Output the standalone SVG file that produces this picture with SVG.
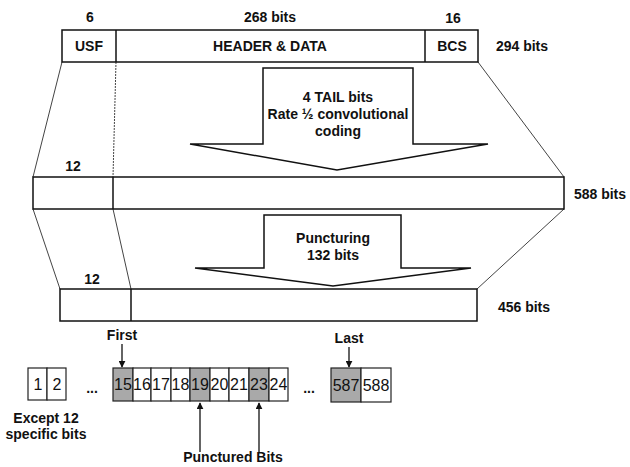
<svg xmlns="http://www.w3.org/2000/svg" width="630" height="467" viewBox="0 0 630 467">
<defs>
<style>
.t{font-family:"Liberation Sans",Arial,sans-serif;font-weight:bold;font-size:14px;fill:#111;text-anchor:middle}
.n{font-family:"Liberation Sans",Arial,sans-serif;font-size:16px;fill:#111;text-anchor:middle}
.box{fill:#fff;stroke:#111;stroke-width:1.5}
.cell{fill:#fff;stroke:#222;stroke-width:1.2}
.sh{fill:#a9a9a9;stroke:#222;stroke-width:1.2}
.ln{stroke:#444;stroke-width:1;fill:none}
.ar{stroke:#111;stroke-width:1.3;fill:none}
</style>
<marker id="ah" viewBox="0 0 10 10" refX="9" refY="5" markerWidth="7" markerHeight="7" orient="auto" markerUnits="userSpaceOnUse">
<path d="M0,0 L10,5 L0,10 z" fill="#111"/>
</marker>
</defs>
<rect width="630" height="467" fill="#fff"/>

<g id="connectors">
<line class="ln" x1="62" y1="62" x2="33" y2="177"/>
<line class="ln" x1="116" y1="62" x2="113" y2="177" stroke-dasharray="2,1"/>
<line class="ln" x1="478" y1="62" x2="564" y2="177"/>
<line class="ln" x1="33" y1="209" x2="60" y2="289"/>
<line class="ln" x1="113" y1="209" x2="131" y2="289"/>
<line class="ln" x1="564" y1="209" x2="477" y2="289"/>
<line class="ar" x1="122" y1="344" x2="122" y2="367" marker-end="url(#ah)"/>
<line class="ar" x1="349" y1="347" x2="349" y2="367" marker-end="url(#ah)"/>
<line class="ar" x1="200" y1="452" x2="200" y2="403" marker-end="url(#ah)"/>
<line class="ar" x1="259" y1="452" x2="259" y2="403" marker-end="url(#ah)"/>
</g>

<g id="frame294">
<rect class="box" x="62" y="30" width="416" height="32"/>
<line class="box" x1="116" y1="30" x2="116" y2="62"/>
<line class="box" x1="425" y1="30" x2="425" y2="62"/>
<text class="t" x="89" y="51">USF</text>
<text class="t" x="270" y="51">HEADER &amp; DATA</text>
<text class="t" x="452" y="51">BCS</text>
<text class="t" x="90" y="22">6</text>
<text class="t" x="270" y="22">268 bits</text>
<text class="t" x="453" y="23">16</text>
<text class="t" x="522" y="51">294 bits</text>
</g>

<g id="arrow-coding">
<polygon class="box" points="263,68 413,68 413,144 488,144 337,170 190,144 263,144"/>
<text class="t" x="338" y="102">4 TAIL bits</text>
<text class="t" x="338" y="119">Rate ½ convolutional</text>
<text class="t" x="338" y="136">coding</text>
</g>

<g id="frame588">
<rect class="box" x="33" y="177" width="531" height="32"/>
<line class="box" x1="113" y1="177" x2="113" y2="209"/>
<text class="t" x="73" y="171">12</text>
<text class="t" x="600" y="199">588 bits</text>
</g>

<g id="arrow-puncturing">
<polygon class="box" points="264,215 401,215 401,268 471,268 333,286 195,268 264,268"/>
<text class="t" x="333" y="243">Puncturing</text>
<text class="t" x="333" y="260">132 bits</text>
</g>

<g id="frame456">
<rect class="box" x="60" y="289" width="417" height="32"/>
<line class="box" x1="131" y1="289" x2="131" y2="321"/>
<text class="t" x="92" y="284">12</text>
<text class="t" x="524" y="312">456 bits</text>
</g>

<g id="bits-start">
<rect class="cell" x="28" y="368" width="19" height="32"/>
<rect class="cell" x="47" y="368" width="19" height="32"/>
<text class="n" x="38" y="390">1</text>
<text class="n" x="57" y="390">2</text>
<text class="t" x="92" y="393">...</text>
<text class="t" x="46" y="423">Except 12</text>
<text class="t" x="46" y="439">specific bits</text>
</g>

<g id="bits-middle">
<rect class="sh" x="113" y="368" width="20" height="33"/>
<rect class="cell" x="133" y="368" width="18" height="33"/>
<rect class="cell" x="151" y="368" width="20" height="33"/>
<rect class="cell" x="171" y="368" width="19" height="33"/>
<rect class="sh" x="190" y="368" width="20" height="33"/>
<rect class="cell" x="210" y="368" width="19" height="33"/>
<rect class="cell" x="229" y="368" width="20" height="33"/>
<rect class="sh" x="249" y="368" width="20" height="33"/>
<rect class="cell" x="269" y="368" width="19" height="33"/>
<text class="n" x="123" y="390">15</text>
<text class="n" x="142" y="390">16</text>
<text class="n" x="161" y="390">17</text>
<text class="n" x="180.5" y="390">18</text>
<text class="n" x="200" y="390">19</text>
<text class="n" x="219.5" y="390">20</text>
<text class="n" x="239" y="390">21</text>
<text class="n" x="259" y="390">23</text>
<text class="n" x="278.5" y="390">24</text>
<text class="t" x="122" y="340">First</text>
<text class="t" x="309" y="393">...</text>
<text class="t" x="233" y="462">Punctured Bits</text>
</g>

<g id="bits-end">
<rect class="sh" x="331" y="368" width="30" height="34"/>
<rect class="cell" x="361" y="368" width="30" height="34"/>
<text class="n" x="346" y="391">587</text>
<text class="n" x="376" y="391">588</text>
<text class="t" x="349" y="343">Last</text>
</g>
</svg>
